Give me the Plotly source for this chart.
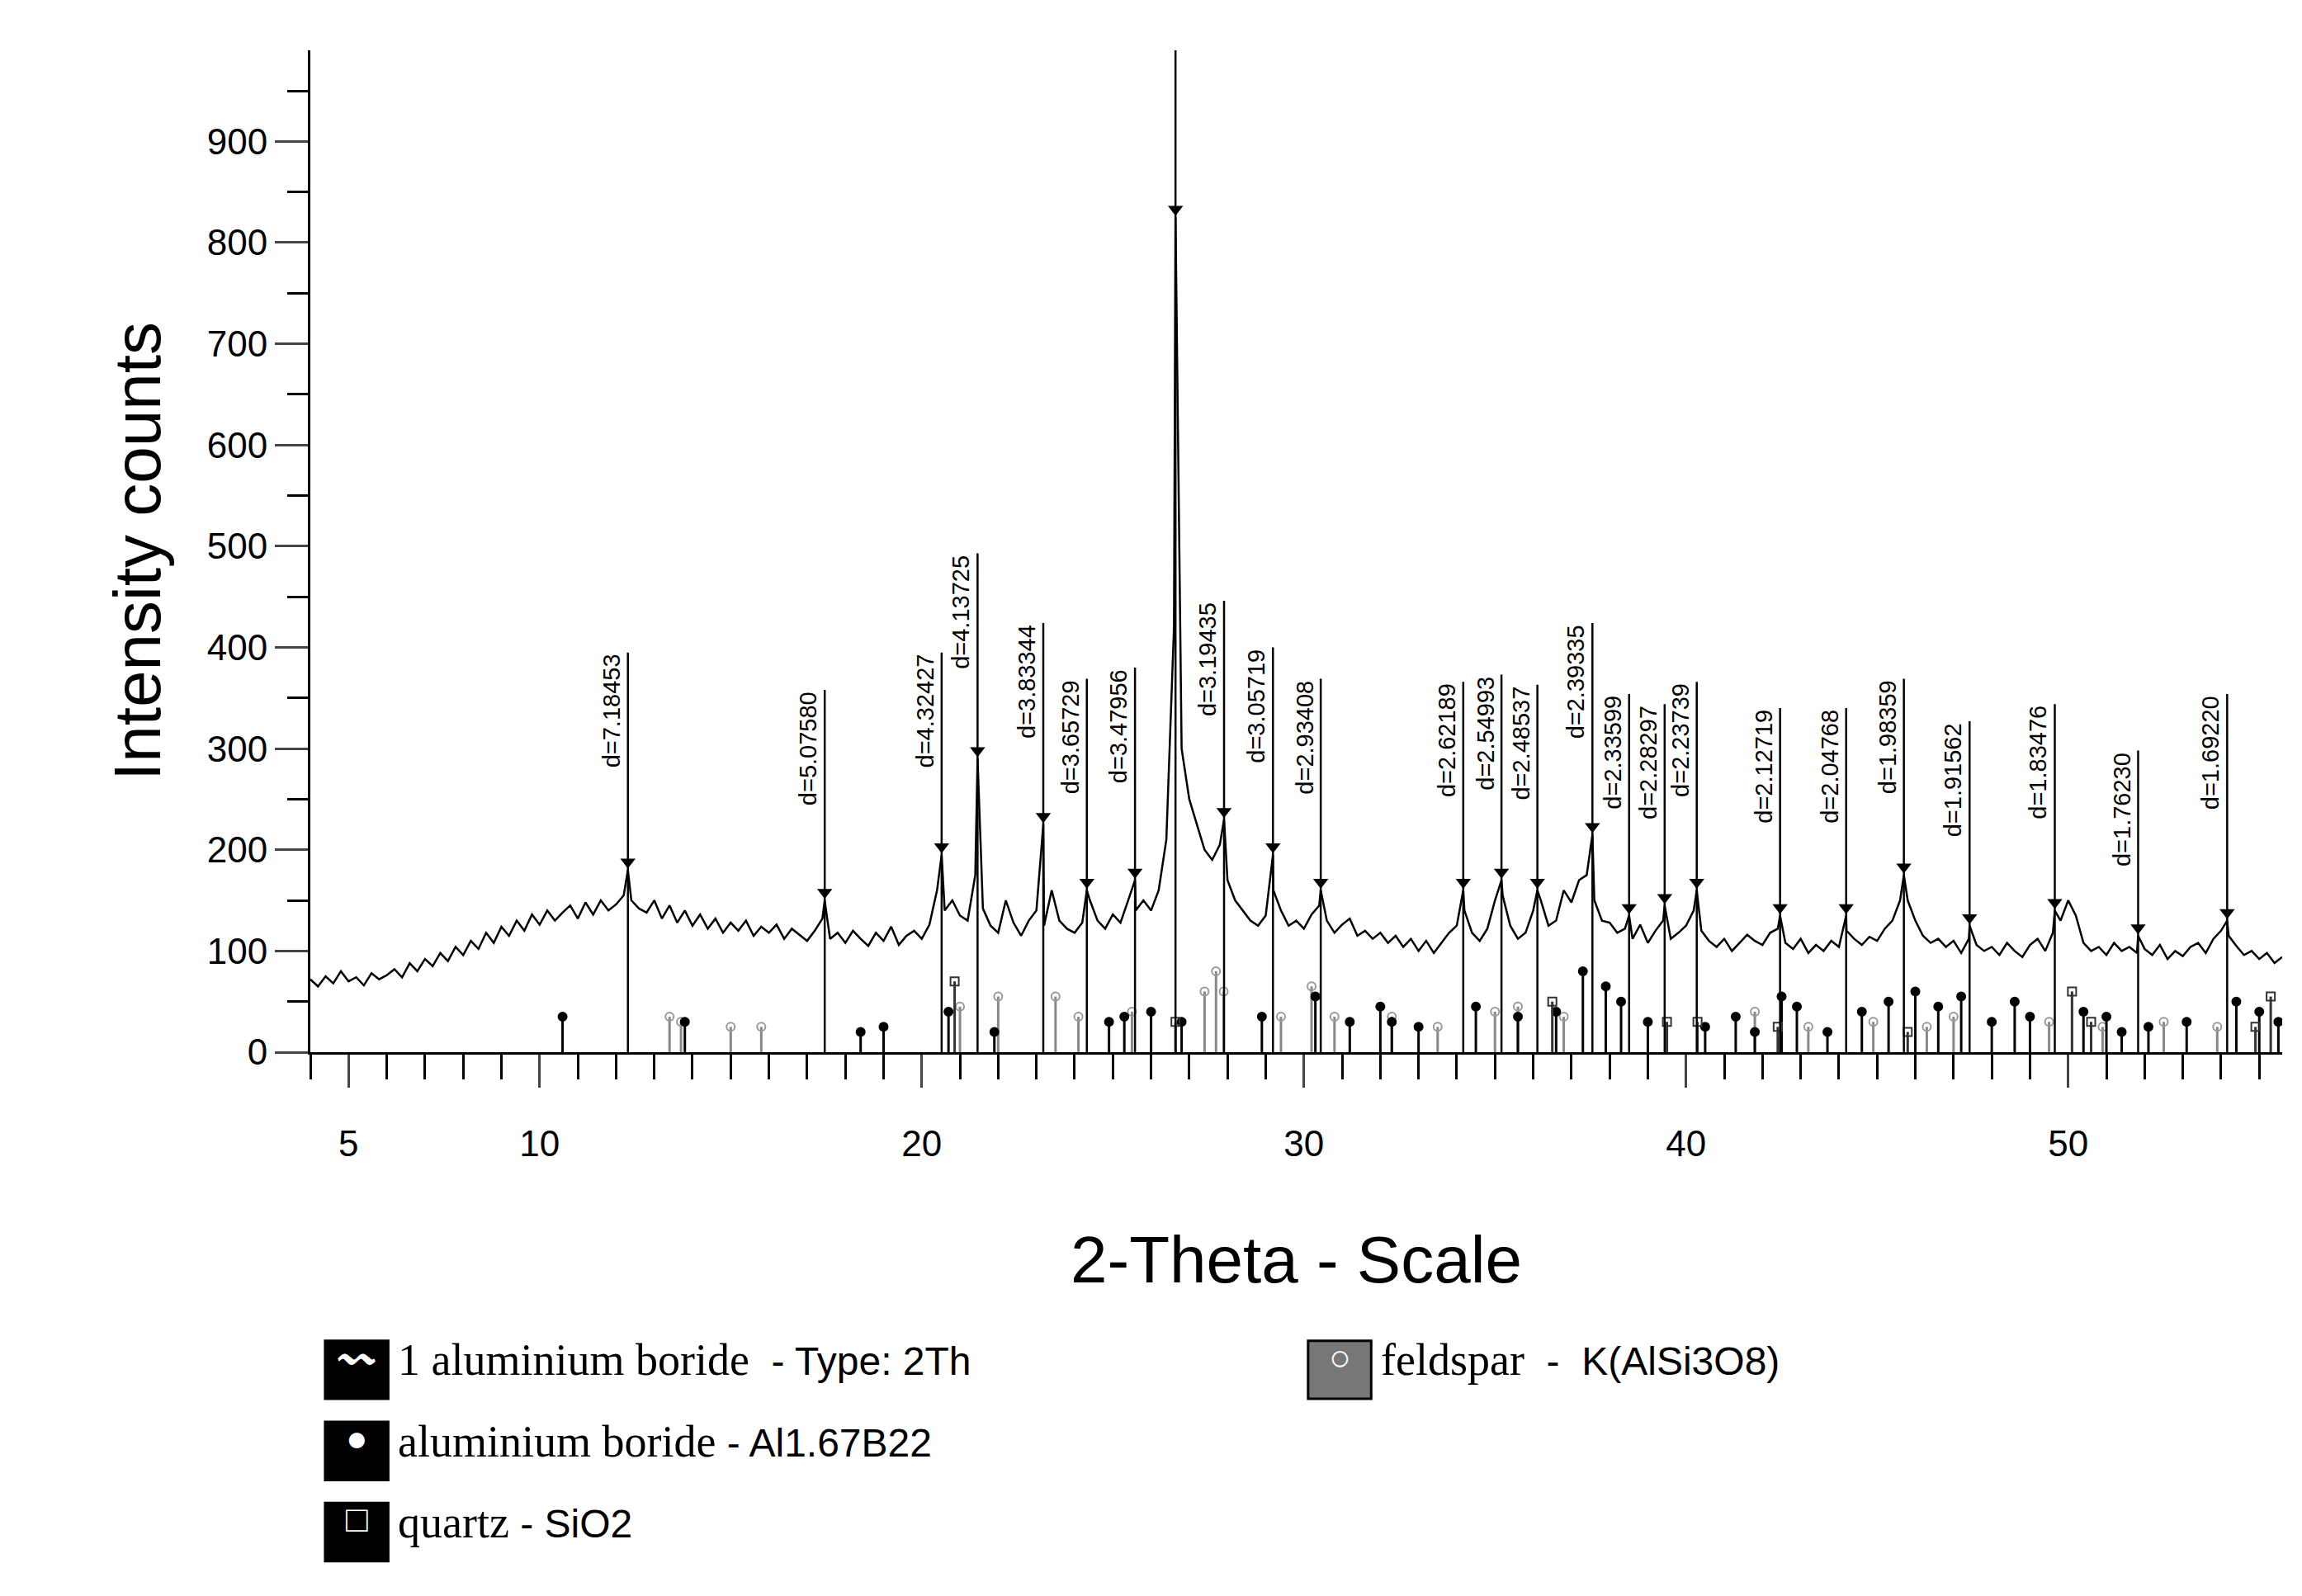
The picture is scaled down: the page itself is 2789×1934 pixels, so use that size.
import numpy as np
import plotly.graph_objects as go

bg_start, bg_step = 4.0, 0.2
bg_y = [72,65,75,68,80,70,74,66,78,72,
76,82,74,88,80,92,85,98,90,104,
96,110,102,118,108,124,115,130,120,136,
126,140,130,138,145,132,148,136,150,140,
146,155,150,142,138,150,132,145,128,140,
125,136,122,132,118,128,120,130,115,124,
118,126,112,122,116,110,120,132,112,118,
108,120,112,105,118,110,124,106,115,120,
112,126,160,140,150,135,130,175,142,125,
118,150,128,115,130,140,125,160,130,122,
118,128,150,130,122,136,128,150,140,150,
140,160,210,420,300,250,225,200,190,205,
170,150,140,130,125,135,160,140,125,130,
122,136,145,130,118,126,132,115,120,112,
118,108,115,104,112,100,110,98,108,118,
125,140,118,110,122,150,155,125,112,118,
140,150,125,130,160,148,170,175,150,130,
128,118,122,112,126,108,120,130,112,118,
125,140,120,110,104,112,100,108,116,110,
106,118,122,108,102,112,98,106,100,110,
104,120,112,106,114,110,122,130,150,150,
130,115,108,112,104,110,98,112,106,100,
104,96,108,100,94,106,112,100,118,130,
150,135,108,100,104,96,108,100,104,98,
102,96,106,92,100,95,104,108,98,112,
120,115,105,96,100,92,98,88,94]
bg_x = [round(bg_start + i * bg_step, 2) for i in range(len(bg_y))]

peak_x = [12.31,17.46,20.52,21.46,23.18,24.32,25.58,26.64,27.91,29.19,30.44,34.17,35.17,36.11,
          37.55,38.51,39.44,40.28,42.46,44.19,45.70,47.42,49.65,51.83,54.16]
peak_y = [180,150,195,290,225,160,170,825,230,195,160,160,170,160,215,135,145,160,135,135,175,125,140,115,130]
peak_top = [395,358,395,493,424,369,380,994,446,400,369,366,373,363,424,354,344,366,340,340,369,327,344,298,354]
peak_lbl = ["d=7.18453","d=5.07580","d=4.32427","d=4.13725","d=3.83344","d=3.65729","d=3.47956","d=3.344",
            "d=3.19435","d=3.05719","d=2.93408","d=2.62189","d=2.54993","d=2.48537","d=2.39335","d=2.33599",
            "d=2.28297","d=2.23739","d=2.12719","d=2.04768","d=1.98359","d=1.91562","d=1.83476","d=1.76230","d=1.69220"]

alb_x = [10.6,13.8,18.4,19.0,20.7,21.9,24.9,25.3,26.0,26.8,28.9,30.3,31.2,32.0,32.3,33.0,34.5,35.6,36.6,37.3,37.9,38.3,
         39.0,40.5,41.3,41.8,42.5,42.9,43.7,44.6,45.3,46.0,46.6,47.2,48.0,48.6,49.0,50.4,51.0,51.4,52.1,53.1,54.4,55.0,55.5]
alb_h = [35,30,20,25,40,20,30,35,40,30,35,55,30,45,30,25,45,35,40,80,65,50,30,25,35,20,55,45,20,40,50,60,45,55,30,50,35,40,35,20,25,30,50,40,30]
qtz_x = [20.86,26.64,36.5,39.5,40.3,42.4,45.8,50.1,50.6,54.9,55.3]
qtz_h = [70,30,50,30,30,25,20,60,30,25,55]
fel_x = [13.4,13.7,15.0,15.8,21.0,22.0,23.5,24.1,25.5,27.4,27.7,27.9,29.4,30.2,30.8,32.3,33.5,35.0,35.6,36.8,41.8,43.2,44.9,46.3,47.0,49.5,50.9,52.5,53.9]
fel_h = [35,30,25,25,45,55,55,35,40,60,80,60,35,65,35,35,25,40,45,35,40,25,30,25,35,30,25,30,25]

legend_names = ["1 aluminium boride", "aluminium boride", "quartz", "feldspar"]
legend_suffix = ["  - Type: 2Th", " - Al1.67B22", " - SiO2", "  -  K(AlSi3O8)"]

pts = sorted(zip(bg_x + peak_x, bg_y + peak_y))
sx = [p[0] for p in pts]; sy = [p[1] for p in pts]

def sticks(xs, y0s, y1s):
    X, Y = [], []
    for x, a, b in zip(xs, y0s, y1s):
        X += [x, x, None]; Y += [a, b, None]
    return X, Y

fig = go.Figure()
for xs, hs, col, sym, fill in [(fel_x, fel_h, "#888888", "circle-open", "#999999"),
                               (alb_x, alb_h, "black", "circle", "black"),
                               (qtz_x, qtz_h, "#333333", "square-open", "#333333")]:
    X, Y = sticks(xs, [0]*len(xs), hs)
    fig.add_trace(go.Scatter(x=X, y=Y, mode="lines", line=dict(color=col, width=3), hoverinfo="skip"))
    fig.add_trace(go.Scatter(x=xs, y=hs, mode="markers", marker=dict(symbol=sym, size=10, color=fill, line=dict(width=2, color=fill))))

X, Y = sticks(peak_x, [0]*len(peak_x), peak_top)
fig.add_trace(go.Scatter(x=X, y=Y, mode="lines", line=dict(color="black", width=2.5)))
fig.add_trace(go.Scatter(x=sx, y=sy, mode="lines", line=dict(color="black", width=2.5)))
fig.add_trace(go.Scatter(x=peak_x, y=[v + 8 for v in peak_y], mode="markers",
                         marker=dict(symbol="triangle-down", size=16, color="black")))
for x, t, l in zip(peak_x, peak_top, peak_lbl):
    fig.add_annotation(x=x, y=t, text=l, textangle=-90, showarrow=False, xanchor="right", yanchor="top",
                       xshift=-2, font=dict(size=29, color="black", family="Liberation Sans"))

fig.update_layout(width=2789, height=1934, showlegend=False, plot_bgcolor="white", paper_bgcolor="white",
                  margin=dict(l=368, r=32, t=53, b=667), font=dict(family="Liberation Sans", color="black"))
fig.update_xaxes(range=[4.0, 55.6], tickvals=[5,10,20,30,40,50], ticks="outside", ticklen=40, tickwidth=3,
                 ticklabelstandoff=30, tickfont=dict(size=44), showline=True, linecolor="black", linewidth=3,
                 showgrid=False, zeroline=False,
                 minor=dict(dtick=1, ticks="outside", ticklen=30, tickwidth=3, tickcolor="black"),
                 title=dict(text="2-Theta - Scale", font=dict(size=80), standoff=90))
fig.update_yaxes(range=[0, 990], tickvals=list(range(0, 1000, 100)), ticks="outside", ticklen=40, tickwidth=3,
                 tickfont=dict(size=44), showline=True, linecolor="black", linewidth=3, showgrid=False, zeroline=False,
                 minor=dict(dtick=50, ticks="outside", ticklen=25, tickwidth=3, tickcolor="black"),
                 title=dict(text="Intensity counts", font=dict(size=80), standoff=30))

leg_pos = [(0.0075, -0.326, "black", "〰"), (0.0075, -0.407, "black", "●"),
           (0.0075, -0.488, "black", "□"), (0.506, -0.326, "#777777", "○")]
for (x0, yc, col, sym), nm, sf in zip(leg_pos, legend_names, legend_suffix):
    fig.add_shape(type="rect", xref="paper", yref="paper", x0=x0, x1=x0 + 0.032,
                  y0=yc - 0.020, y1=yc + 0.038, fillcolor=col, line=dict(color="black", width=3))
    fig.add_annotation(xref="paper", yref="paper", x=x0 + 0.016, y=yc + 0.022, text=sym, showarrow=False,
                       xanchor="center", yanchor="middle", font=dict(size=44, color="white"))
    fig.add_annotation(xref="paper", yref="paper", x=x0 + 0.036, y=yc - 0.008, text=
                       f"<span style='font-family:Liberation Serif;font-size:54px'>{nm}</span>{sf}",
                       showarrow=False, xanchor="left", font=dict(size=48, color="black"))
fig.write_html("out.html")
